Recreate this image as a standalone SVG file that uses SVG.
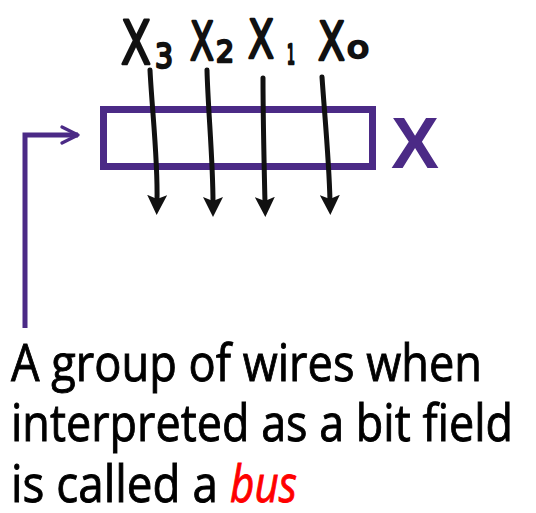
<svg xmlns="http://www.w3.org/2000/svg" width="536" height="513" viewBox="0 0 536 513">
<style>
.wire{fill:none;stroke:#111;stroke-width:5;stroke-linecap:round}
.hand{font-family:"DejaVu Sans",sans-serif;fill:#111;stroke:#111;stroke-width:2.5;stroke-linejoin:round}
.txt{font-family:"Open Sans","Liberation Sans",sans-serif;font-size:52px;fill:#000;stroke:#000;stroke-width:0.9}
.bus{font-style:italic;fill:#FF0000;stroke:#FF0000}
.purple{stroke:#4B2A86;fill:none}
</style>
<defs>
<marker id="ah" viewBox="0 0 10 10" refX="3" refY="5" markerWidth="4" markerHeight="4" orient="auto" markerUnits="strokeWidth">
<path d="M0,0 L10,5 L0,10 L2,5 Z" fill="#111"/>
</marker>
<marker id="pa" viewBox="0 0 10 10" refX="9" refY="5" markerWidth="4" markerHeight="4" orient="auto" markerUnits="strokeWidth">
<path d="M1,1 L9,5 L1,9" fill="none" stroke="#4B2A86" stroke-width="1.6" stroke-linecap="round" stroke-linejoin="round"/>
</marker>
</defs>
<g id="labels">
<text class="hand" x="121" y="64" font-size="60" textLength="30" lengthAdjust="spacingAndGlyphs">X</text>
<text class="hand" x="155" y="68" font-size="34" textLength="18" lengthAdjust="spacingAndGlyphs">3</text>
<text class="hand" x="190" y="60" font-size="54" textLength="24" lengthAdjust="spacingAndGlyphs">X</text>
<text class="hand" x="216" y="62" font-size="30" textLength="18" lengthAdjust="spacingAndGlyphs">2</text>
<text class="hand" x="248" y="58" font-size="54" textLength="26" lengthAdjust="spacingAndGlyphs">X</text>
<text class="hand" x="287" y="64" font-size="26" textLength="8" lengthAdjust="spacingAndGlyphs">1</text>
<text class="hand" x="318" y="60" font-size="54" textLength="27" lengthAdjust="spacingAndGlyphs">X</text>
<text class="hand" x="347" y="58" font-size="30" textLength="22" lengthAdjust="spacingAndGlyphs">o</text>
</g>
<g id="bus">
<rect x="103.5" y="109.5" width="269" height="57" stroke-width="7" class="purple"/>
<text x="391" y="168" font-family="Liberation Sans,Arial,sans-serif" font-weight="bold" font-size="72" fill="#4B2A86">X</text>
</g>
<g id="connectors">
<path class="wire" d="M150,70 C152,110 158,160 157,201" marker-end="url(#ah)"/>
<path class="wire" d="M207,70 C208,110 213,160 213,203" marker-end="url(#ah)"/>
<path class="wire" d="M263,78 C263,120 264,160 265,203" marker-end="url(#ah)"/>
<path class="wire" d="M322,77 C325,120 329,160 330,201" marker-end="url(#ah)"/>
<path d="M25,328 L25,135 L78,135" stroke="#4B2A86" stroke-width="5" fill="none" marker-end="url(#pa)"/>
</g>
<g id="caption">
<text class="txt" x="11" y="381" textLength="471" lengthAdjust="spacingAndGlyphs">A group of wires when</text>
<text class="txt" x="11" y="441" textLength="502" lengthAdjust="spacingAndGlyphs">interpreted as a bit field</text>
<text class="txt" x="11" y="502" textLength="207" lengthAdjust="spacingAndGlyphs">is called a</text>
<text class="txt bus" x="230" y="502" textLength="67" lengthAdjust="spacingAndGlyphs">bus</text>
</g>
</svg>
